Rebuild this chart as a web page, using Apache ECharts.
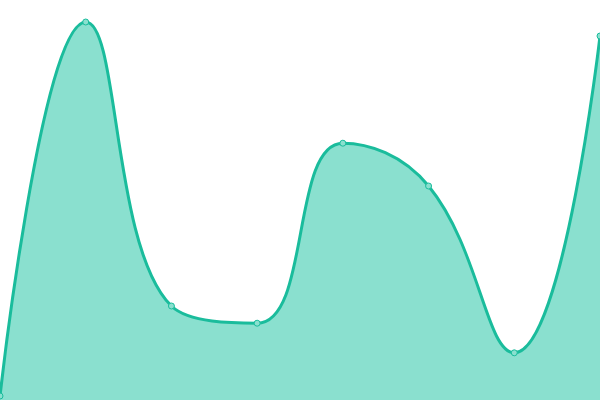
<!DOCTYPE html>
<html>
<head>
<meta charset="utf-8">
<script src="https://cdn.jsdelivr.net/npm/echarts@6/dist/echarts.min.js"></script>
<style>
html, body { margin: 0; padding: 0; background: #fff; }
#main { width: 600px; height: 400px; }
</style>
</head>
<body>
<div id="main"></div>
<script>
var categories = ['A', 'B', 'C', 'D', 'E', 'F', 'G', 'H'];
var values = [1, 94.5, 23.5, 19.2, 64.2, 53.5, 11.8, 91];

var chart = echarts.init(document.getElementById('main'));
var option = {
    animation: false,
    grid: { left: 0, right: 0, top: 0, bottom: 0 },
    xAxis: {
        type: 'category',
        data: categories,
        boundaryGap: false,
        show: false
    },
    yAxis: {
        type: 'value',
        min: 0,
        max: 100,
        show: false
    },
    series: [{
        type: 'line',
        data: values,
        smooth: 0.45,
        symbol: 'circle',
        symbolSize: 6,
        lineStyle: { color: '#1abc9c', width: 3 },
        itemStyle: { color: '#8ae0cf', borderColor: '#1abc9c', borderWidth: 1 },
        areaStyle: { color: '#8ae0cf', opacity: 1 }
    }]
};
chart.setOption(option);
</script>
</body>
</html>
